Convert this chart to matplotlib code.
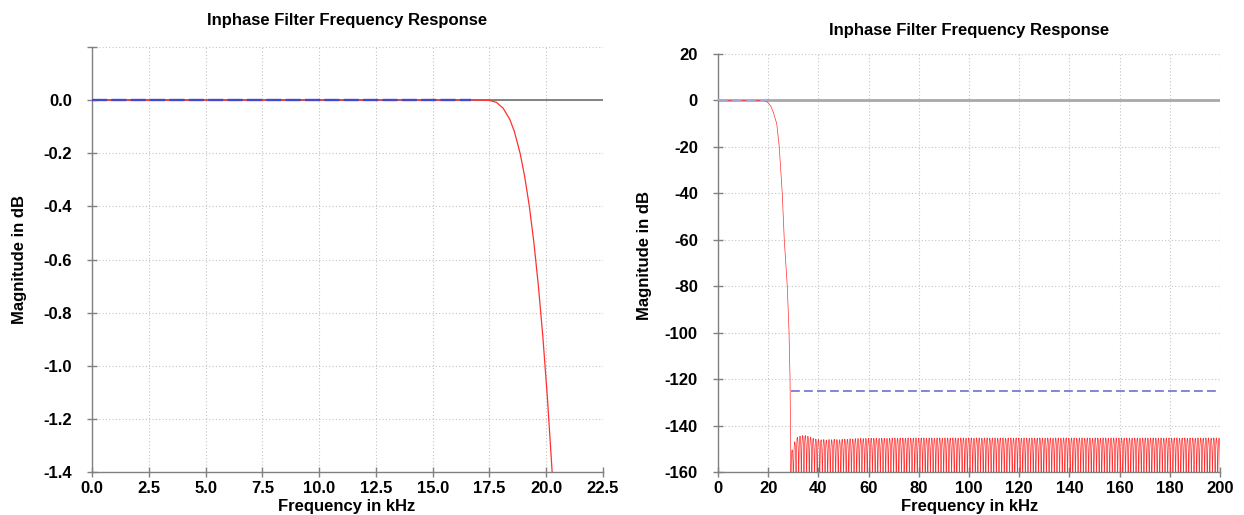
import numpy as np
import matplotlib
matplotlib.use("Agg")
import matplotlib.pyplot as plt

plt.rcParams['font.family'] = ['Liberation Sans', 'DejaVu Sans']
plt.rcParams['font.weight'] = 'bold'

title_text = "Inphase Filter Frequency Response"
xlabel_text = "Frequency in kHz"
ylabel_text = "Magnitude in dB"

# Passband / transition response (kHz, dB)
trans_khz = [0.0, 17.2, 17.5, 17.8, 18.1, 18.4, 18.6, 18.85, 19.05, 19.25, 19.45, 19.65,
             19.85, 20.05, 20.25, 20.4, 20.7, 21.1, 22.0, 23.4, 24.4, 25.6, 26.4,
             27.6, 28.3, 28.7, 28.96]
trans_db = [0.0, 0.0, -0.001, -0.008, -0.03, -0.073, -0.119, -0.2, -0.287, -0.396, -0.531, -0.695,
            -0.889, -1.118, -1.385, -1.61, -2.0, -2.6, -5.0, -10.0, -20.0, -40.0, -60.0,
            -80.0, -100.0, -120.0, -150.0]

# Stopband ripple: lobes start at stop_start_khz, each stop_lobe_khz wide; peak level of each lobe
stop_start_khz = 29.0
stop_lobe_khz = 1.05
stop_peak_db = [
    -150.5, -147.0, -145.0, -144.5, -144.3, -144.3, -144.6, -145.0, -145.5, -145.8,
    -146.0, -146.1, -146.0, -146.2, -146.0, -146.1, -145.9, -146.0, -146.1, -145.9,
    -145.8, -145.9, -145.7, -145.8, -145.6, -145.6, -145.5, -145.6, -145.5, -145.5,
    -145.4, -145.5, -145.4, -145.5, -145.4, -145.4, -145.5, -145.4, -145.4, -145.3,
    -145.4, -145.4, -145.3, -145.4, -145.3, -145.4, -145.3, -145.3, -145.4, -145.3,
    -145.3, -145.4, -145.3, -145.3, -145.4, -145.3, -145.3, -145.4, -145.3, -145.3,
    -145.4, -145.3, -145.3, -145.4, -145.3, -145.3, -145.4, -145.3, -145.3, -145.4,
    -145.3, -145.3, -145.4, -145.3, -145.3, -145.4, -145.3, -145.3, -145.4, -145.3,
    -145.3, -145.4, -145.3, -145.3, -145.4, -145.3, -145.3, -145.4, -145.3, -145.3,
    -145.4, -145.3, -145.3, -145.4, -145.3, -145.3, -145.4, -145.3, -145.3, -145.4,
    -145.3, -145.3, -145.4, -145.3, -145.3, -145.4, -145.3, -145.3, -145.4, -145.3,
    -145.3, -145.4, -145.3, -145.3, -145.4, -145.3, -145.3, -145.4, -145.3, -145.3,
    -145.4, -145.3, -145.3, -145.4, -145.3, -145.3, -145.4, -145.3, -145.3, -145.4,
    -145.3, -145.3, -145.4, -145.3, -145.3, -145.4, -145.3, -145.3, -145.4, -145.3,
    -145.3, -145.4, -145.3, -145.3, -145.4, -145.3, -145.3, -145.4, -145.3, -145.3,
    -145.4, -145.3, -145.3, -145.4, -145.3, -145.3, -145.4, -145.3, -145.3, -145.4,
    -145.3, -145.3, -145.4,
]

# Specification masks
spec_pass_db = 0.0
spec_pass_end_left = 16.7
spec_pass_end_right = 19.4
spec_stop_start = 28.96
spec_stop_end = 200.0
spec_stop_db = -125.0

left_xticks = [0.0, 2.5, 5.0, 7.5, 10.0, 12.5, 15.0, 17.5, 20.0, 22.5]
left_yticks = [-1.4, -1.2, -1.0, -0.8, -0.6, -0.4, -0.2, 0.0, 0.2]
left_yticklabels = ["-1.4", "-1.2", "-1.0", "-0.8", "-0.6", "-0.4", "-0.2", "0.0", ""]
right_xticks = [0, 20, 40, 60, 80, 100, 120, 140, 160, 180, 200]
right_yticks = [-160, -140, -120, -100, -80, -60, -40, -20, 0, 20]

# ---- build the stopband curve (lobe shape between nulls) ----
sf, sd = [], []
t = np.linspace(0.0, 1.0, 15)
shape = 20 * np.log10(np.maximum(np.sin(np.pi * t), 1e-4))
for k, pk in enumerate(stop_peak_db):
    f0 = stop_start_khz + k * stop_lobe_khz
    sf.extend(list(f0 + t * stop_lobe_khz))
    sd.extend(list(pk + shape))
full_khz = np.concatenate([trans_khz, sf])
full_db = np.concatenate([trans_db, sd])

W, H = 1244, 515
fig = plt.figure(figsize=(W / 100, H / 100), dpi=100)
ax1 = fig.add_axes([92 / W, (H - 472) / H, 511 / W, 425 / H])
ax2 = fig.add_axes([718 / W, (H - 472) / H, 502 / W, 418 / H])

grid_kw = dict(color='#c4c4c4', linewidth=0.8, linestyle=(0, (1, 2)))
for ax in (ax1, ax2):
    for s in ('top', 'right'):
        ax.spines[s].set_visible(False)
    for s in ('left', 'bottom'):
        ax.spines[s].set_color('#808080')
        ax.spines[s].set_linewidth(1.0)
    ax.grid(True, **grid_kw)
    ax.set_axisbelow(True)
    ax.tick_params(axis='both', which='major', direction='inout', length=7,
                   width=1, color='#808080', labelsize=12, labelcolor='black')
    ax.tick_params(axis='y', pad=11)
    ax.tick_params(axis='x', pad=3)

# Left: passband zoom
ax1.axhline(0, color='#707070', linewidth=1.2, zorder=2)
ax1.plot(trans_khz, trans_db, color='#ff3030', linewidth=0.9, zorder=3)
ax1.plot([0, spec_pass_end_left], [spec_pass_db, spec_pass_db], color='#4848c8',
         linewidth=1.7, dashes=(6.4, 1.8), zorder=4)
ax1.set_xlim(0, 22.5)
ax1.set_ylim(-1.4, 0.2)
ax1.set_xticks(left_xticks)
ax1.set_xticklabels([f"{v:.1f}" for v in left_xticks], fontweight='bold')
ax1.set_yticks(left_yticks)
ax1.set_yticklabels(left_yticklabels, fontweight='bold')

# Right: full response
ax2.axhline(0, color='#a8a8a8', linewidth=2.0, zorder=2)
ax2.plot(full_khz, full_db, color='#ff3030', linewidth=0.5, zorder=3)
ax2.plot([0, spec_pass_end_right], [spec_pass_db, spec_pass_db], color='#a8a8e8',
         linewidth=1.3, dashes=(5.3, 2.5), zorder=4)
ax2.plot([spec_stop_start, spec_stop_end], [spec_stop_db, spec_stop_db], color='#7070d0',
         linewidth=1.2, dashes=(5.3, 2.5), zorder=4)
ax2.set_xlim(0, 200)
ax2.set_ylim(-160, 20)
ax2.set_xticks(right_xticks)
ax2.set_xticklabels([str(v) for v in right_xticks], fontweight='bold')
ax2.set_yticks(right_yticks)
ax2.set_yticklabels([str(v) for v in right_yticks], fontweight='bold')

# Titles and axis labels
fig.text(347 / W, 1 - 20 / H, title_text, ha='center', va='center', fontsize=12, fontweight='bold')
fig.text(969 / W, 1 - 30 / H, title_text, ha='center', va='center', fontsize=12, fontweight='bold')
fig.text(347 / W, 1 - 507 / H, xlabel_text, ha='center', va='center', fontsize=12, fontweight='bold')
fig.text(970 / W, 1 - 507 / H, xlabel_text, ha='center', va='center', fontsize=12, fontweight='bold')
fig.text(20 / W, 1 - 260 / H, ylabel_text, ha='center', va='center', rotation=90, fontsize=12, fontweight='bold')
fig.text(644 / W, 1 - 255 / H, ylabel_text, ha='center', va='center', rotation=90, fontsize=12, fontweight='bold')

fig.savefig("out.png", dpi=100)
